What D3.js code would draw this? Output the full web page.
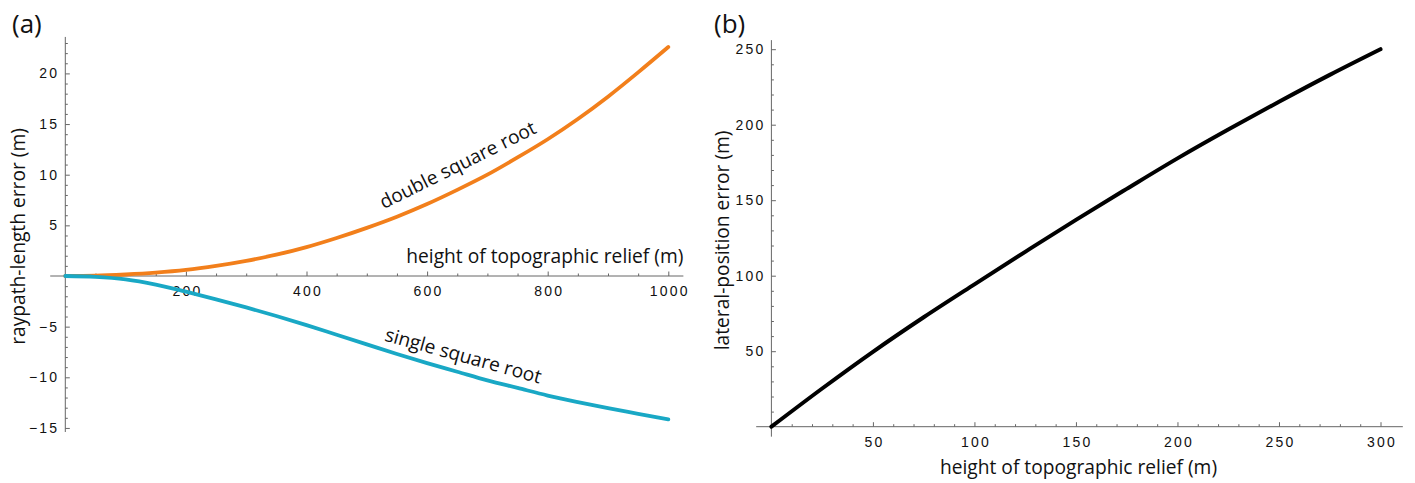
<!DOCTYPE html>
<html>
<head>
<meta charset="utf-8">
<script src="https://cdn.jsdelivr.net/npm/d3@7"></script>
<style>
  body { margin: 0; background: #fff; }
  .tick text { font-family: "Liberation Sans", Arial, sans-serif; font-size: 14px; letter-spacing: 2.2px; fill: #111; }
  .title { font-family: "Open Sans", sans-serif; font-size: 19.2px; fill: #111; }
  .panel { font-family: "Open Sans", sans-serif; font-size: 26px; fill: #111; }
</style>
</head>
<body>
<svg id="chart"></svg>
<script>
// Constants
const width = 1415;
const height = 483;
const axisColor = "#666";

// Panel (a): raypath-length error vs relief height
const reliefA = [0, 50, 100, 150, 200, 250, 300, 350, 400, 450, 500, 550, 600, 650, 700, 750, 800, 850, 900, 950, 1000];
const doubleRoot = [0, 0.03, 0.15, 0.33, 0.6, 1.0, 1.5, 2.1, 2.85, 3.75, 4.75, 5.85, 7.1, 8.5, 10.0, 11.7, 13.5, 15.5, 17.7, 20.1, 22.6];
const singleRoot = [0, -0.08, -0.33, -0.85, -1.55, -2.3, -3.1, -3.95, -4.85, -5.8, -6.75, -7.7, -8.6, -9.45, -10.3, -11.05, -11.8, -12.45, -13.05, -13.6, -14.15];
const xTicksA = [200, 400, 600, 800, 1000];
const yTicksA = [-15, -10, -5, 5, 10, 15, 20];

// Panel (b): lateral-position error vs relief height
const reliefB = [0, 25, 50, 75, 100, 125, 150, 175, 200, 225, 250, 275, 300];
const lateralErr = [0, 25.3, 49.6, 72.5, 94.3, 115.8, 137, 157.5, 177.7, 196.8, 215.2, 233, 250];
const xTicksB = [50, 100, 150, 200, 250, 300];
const yTicksB = [50, 100, 150, 200, 250];

const svg = d3.select("#chart").attr("width", width).attr("height", height);

// minor ticks = every step between lo and hi, skipping majors and zero
function minorTicks(lo, hi, step, majors) {
    const out = [];
    for (let v = lo; v <= hi + 1e-9; v += step) {
        const r = Math.round(v * 1000) / 1000;
        if (r !== 0 && !majors.includes(r)) out.push(r);
    }
    return out;
}

const fmt = d => d < 0 ? "\u2212" + Math.abs(d) : String(d);

// draws Mathematica-style crossing axes with inward ticks
function drawAxes(x, y, o) {
    const g = svg.append("g");
    // axis lines
    g.append("line")
        .attr("x1", x(o.xLine[0])).attr("x2", x(o.xLine[1]))
        .attr("y1", y(0)).attr("y2", y(0))
        .attr("stroke", axisColor);
    g.append("line")
        .attr("x1", x(0)).attr("x2", x(0))
        .attr("y1", y(o.yLine[0])).attr("y2", y(o.yLine[1]))
        .attr("stroke", axisColor);

    const xa = g.append("g").attr("transform", `translate(0,${y(0)})`)
        .call(d3.axisBottom(x).tickValues(o.xMajor).tickSize(-4.5).tickPadding(10).tickFormat(fmt));
    const xm = g.append("g").attr("transform", `translate(0,${y(0)})`)
        .call(d3.axisBottom(x).tickValues(o.xMinor).tickSize(-2.5).tickFormat(""));
    const ya = g.append("g").attr("transform", `translate(${x(0)},0)`)
        .call(d3.axisLeft(y).tickValues(o.yMajor).tickSize(-4.5).tickPadding(8).tickFormat(fmt));
    const ym = g.append("g").attr("transform", `translate(${x(0)},0)`)
        .call(d3.axisLeft(y).tickValues(o.yMinor).tickSize(-2.5).tickFormat(""));

    [xa, xm, ya, ym].forEach(a => {
        a.select(".domain").remove();
        a.selectAll(".tick line").attr("stroke", axisColor);
    });
    ya.selectAll(".tick text").attr("dx", "2px");
    xa.selectAll(".tick text").attr("dx", "1px");
}

// ---------- panel (a) ----------
const xA = d3.scaleLinear().domain([0, 1000]).range([65.3, 668.3]);
const yA = d3.scaleLinear().domain([0, 20]).range([276, 73.4]);

drawAxes(xA, yA, {
    xLine: [-25, 1025], yLine: [-15.4, 23.6],
    xMajor: xTicksA, xMinor: minorTicks(50, 1000, 50, xTicksA),
    yMajor: yTicksA, yMinor: minorTicks(-15, 23, 1, yTicksA)
});

const lineA = d3.line().curve(d3.curveMonotoneX).x(d => xA(d[0])).y(d => yA(d[1]));

svg.append("path")
    .datum(reliefA.map((h, i) => [h, doubleRoot[i]]))
    .attr("d", lineA).attr("fill", "none")
    .attr("stroke", "#f27f1b").attr("stroke-width", 3.8).attr("stroke-linecap", "round");

svg.append("path")
    .datum(reliefA.map((h, i) => [h, singleRoot[i]]))
    .attr("d", lineA).attr("fill", "none")
    .attr("stroke", "#19a8c5").attr("stroke-width", 3.8).attr("stroke-linecap", "round");

// curve labels
svg.append("text").attr("class", "title")
    .attr("transform", `translate(${xA(528)},${yA(5.4) - 12}) rotate(-26.5)`)
    .text("double square root");
svg.append("text").attr("class", "title")
    .attr("transform", `translate(${xA(528)},${yA(-7.35) - 10}) rotate(15.5)`)
    .text("single square root");

// axis titles
svg.append("text").attr("class", "title")
    .attr("x", xA(1025)).attr("y", yA(0) - 13)
    .attr("text-anchor", "end")
    .text("height of topographic relief (m)");
svg.append("text").attr("class", "title")
    .attr("transform", `translate(25,${(yA(-15.4) + yA(23.6)) / 2 + 2}) rotate(-90)`)
    .attr("text-anchor", "middle")
    .text("raypath-length error (m)");
svg.append("text").attr("class", "panel").attr("x", 12).attr("y", 33).text("(a)");

// ---------- panel (b) ----------
const xB = d3.scaleLinear().domain([0, 300]).range([771.4, 1380.5]);
const yB = d3.scaleLinear().domain([0, 250]).range([426.7, 49.2]);

drawAxes(xB, yB, {
    xLine: [-7.5, 311], yLine: [-6.6, 256],
    xMajor: xTicksB, xMinor: minorTicks(10, 300, 10, xTicksB),
    yMajor: yTicksB, yMinor: minorTicks(10, 250, 10, yTicksB)
});

const lineB = d3.line().curve(d3.curveMonotoneX).x(d => xB(d[0])).y(d => yB(d[1]));

svg.append("path")
    .datum(reliefB.map((h, i) => [h, lateralErr[i]]))
    .attr("d", lineB).attr("fill", "none")
    .attr("stroke", "#000").attr("stroke-width", 4).attr("stroke-linecap", "round");

svg.append("text").attr("class", "title")
    .attr("x", (xB(-7.5) + xB(311)) / 2 - 1).attr("y", 474)
    .attr("text-anchor", "middle")
    .text("height of topographic relief (m)");
svg.append("text").attr("class", "title")
    .attr("transform", `translate(729,${(yB(-6.6) + yB(256)) / 2 + 2}) rotate(-90)`)
    .attr("text-anchor", "middle")
    .text("lateral-position error (m)");
svg.append("text").attr("class", "panel").attr("x", 714).attr("y", 33).text("(b)");
</script>
</body>
</html>
